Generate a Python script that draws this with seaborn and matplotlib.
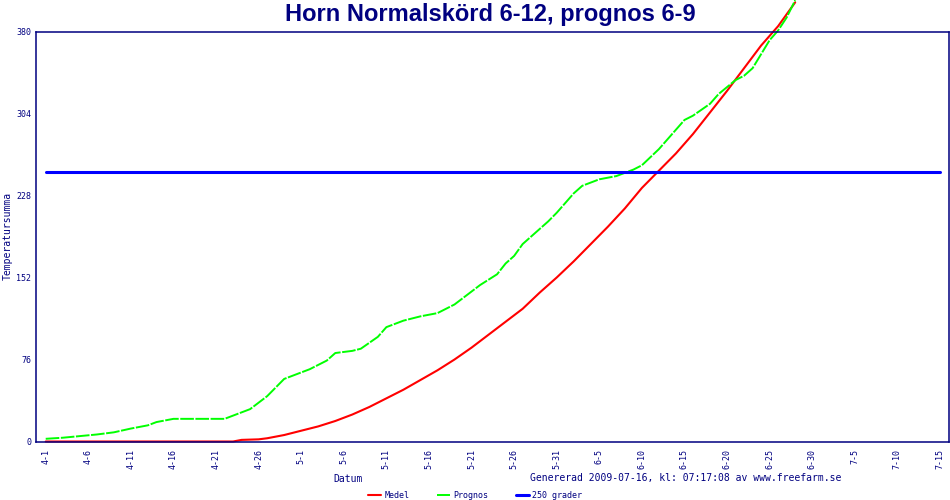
import matplotlib
matplotlib.use('Agg')
import matplotlib.pyplot as plt
import seaborn as sns

# dagar efter 4-1
dagar_medel = [0, 22, 23, 25, 26, 28, 30, 32, 34, 36, 38, 40, 42, 44, 46, 48, 50, 52,
               54, 56, 58, 60, 62, 64, 66, 68, 70, 72, 74, 76, 78, 80, 82, 84, 86, 88]
medel = [0, 0, 1.5, 2, 3, 6, 10, 14, 19, 25, 32, 40, 48, 57, 66, 76, 87, 99,
         111, 123, 138, 152, 167, 183, 199, 216, 235, 251, 267, 285, 305, 325, 346, 367, 385, 407]

dagar_prognos = [0, 2, 4, 6, 8, 10, 12, 13, 15, 17, 19, 21, 22, 24, 25, 26, 27, 28, 30,
                 31, 33, 34, 36, 37, 39, 40, 42, 44, 46, 48, 50, 51, 53, 54, 55, 56, 57,
                 59, 60, 62, 63, 65, 67, 69, 70, 72, 73, 75, 76, 78, 79, 81, 82, 83, 85,
                 86, 87, 88]
prognos = [2.5, 3.5, 5, 6.5, 8.5, 12, 15, 18, 21, 21, 21, 21, 24, 30, 36, 42, 50, 58, 64,
           67, 75, 82, 84, 86, 97, 106, 112, 116, 119, 127, 139, 145, 155, 165, 172, 183, 190,
           204, 212, 230, 237, 243, 246, 252, 256, 271, 280, 298, 302, 313, 322, 335, 339, 346, 372,
           381, 393, 409]

dagar_grans = [0, 105]
grans = [250, 250]

tick_dagar = list(range(0, 106, 5))
tick_etiketter = ['4-1', '4-6', '4-11', '4-16', '4-21', '4-26', '5-1', '5-6', '5-11', '5-16',
                  '5-21', '5-26', '5-31', '6-5', '6-10', '6-15', '6-20', '6-25', '6-30',
                  '7-5', '7-10', '7-15']
y_ticks = [0, 76, 152, 228, 304, 380]

navy = '#000080'

sns.set_style('white')
plt.rcParams['font.family'] = ['DejaVu Sans Mono']

fig = plt.figure(figsize=(9.5, 5), dpi=100)
ax = fig.add_axes([36/950, 1 - 441.5/500, 913/950, 410/500])

sns.lineplot(x=dagar_medel, y=medel, color='#ff0000', lw=1.5, label='Medel', ax=ax, clip_on=False)
sns.lineplot(x=dagar_prognos, y=prognos, color='#00ff00', lw=1.4, label='Prognos', ax=ax,
             linestyle=(0, (7, 0.8)), clip_on=False)
sns.lineplot(x=dagar_grans, y=grans, color='#0000ff', lw=2.2, label='250 grader', ax=ax)

ax.set_xlim(-1.14, 106.06)
ax.set_ylim(0, 380)
ax.set_xticks(tick_dagar)
ax.set_xticklabels(tick_etiketter, rotation=90, color=navy, fontsize=6)
ax.set_yticks(y_ticks)
ax.set_yticklabels([str(v) for v in y_ticks], color=navy, fontsize=6)
ax.tick_params(axis='x', direction='inout', length=6, width=1, color=navy, pad=2.5)
ax.tick_params(axis='y', direction='in', length=3.5, width=1, color=navy, pad=3.5)
for s in ax.spines.values():
    s.set_color(navy)
    s.set_linewidth(1.1)

ax.set_xlabel('Datum', color=navy, fontsize=7)
ax.xaxis.set_label_coords(0.342, -0.08)
ax.set_ylabel('')
fig.text(8/950, 1 - 236/500, 'Temperatursumma', rotation=90, ha='center', va='center',
         color=navy, fontsize=7)

ax.get_legend().remove()
handles, labels = ax.get_legend_handles_labels()
fig.legend(handles, labels, loc='center', bbox_to_anchor=(475/950, 1 - 495/500), ncol=3,
           frameon=False, fontsize=6, handlelength=1.6, handletextpad=0.35, columnspacing=3.3,
           labelcolor=navy)

fig.text(490/950, 1 - 14/500, 'Horn Normalskörd 6-12, prognos 6-9', ha='center', va='center',
         fontsize=17, fontweight='bold', color=navy, family='Liberation Sans')
fig.text(530/950, 1 - 478/500, 'Genererad 2009-07-16, kl: 07:17:08 av www.freefarm.se',
         ha='left', va='center', fontsize=7, color=navy)

fig.savefig('out.png', dpi=100)
